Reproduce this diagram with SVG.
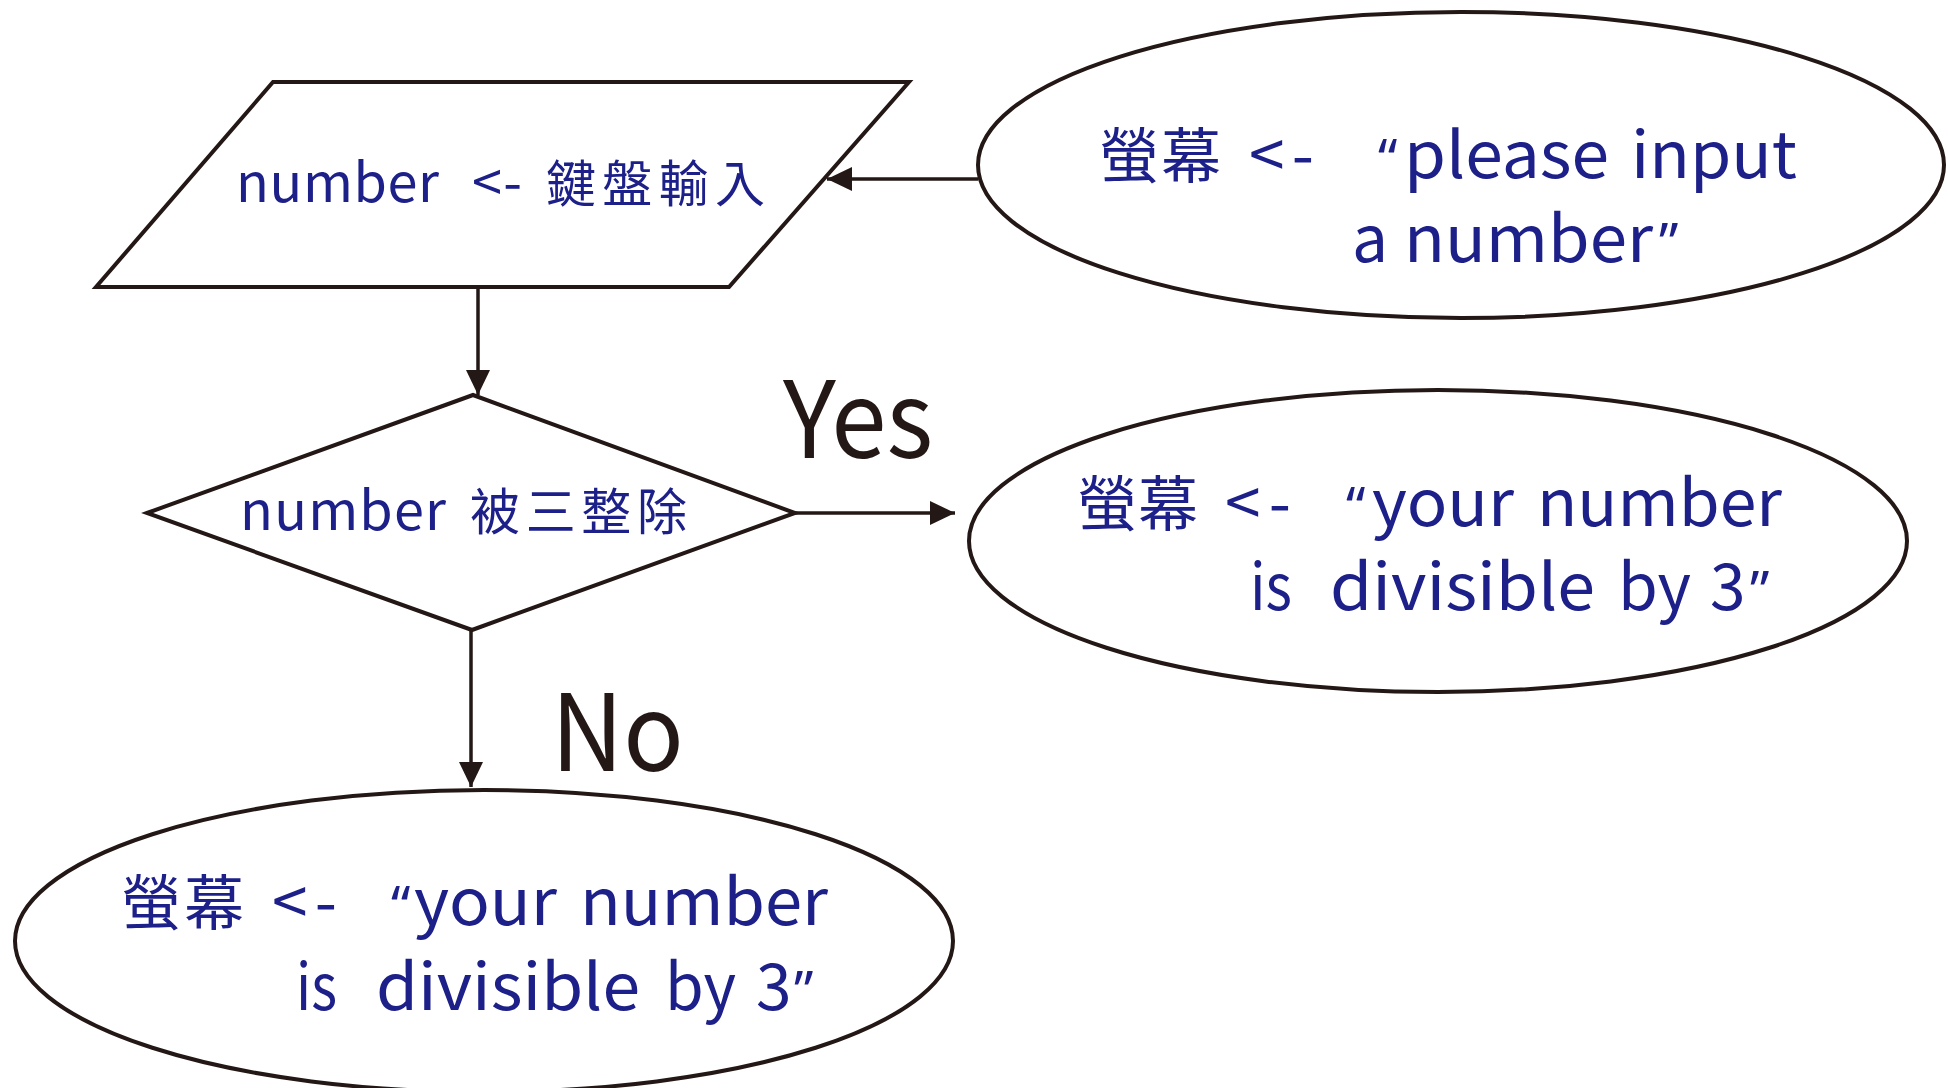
<svg xmlns="http://www.w3.org/2000/svg" width="1948" height="1088" viewBox="0 0 1948 1088">
  <style>
    .shape { fill: #ffffff; stroke: #231815; stroke-width: 4; }
    .conn { fill: none; stroke: #231815; stroke-width: 3.5; }
    .lbl { font-family: "Noto Sans CJK TC", "Noto Sans", sans-serif; fill: #1d2088; }
    .s54 { font-size: 54px; }
    .s64 { font-size: 64px; }
    .cjk50 { font-size: 50px; }
    .cjk60 { font-size: 60px; }
    .q { font-family: "Noto Sans", sans-serif; font-size: 54px; }
    .branch { font-family: "Noto Sans CJK TC", "Noto Sans", sans-serif; font-size: 106px; fill: #231815; }
  </style>
  <defs>
    <marker id="arrow" markerUnits="userSpaceOnUse" markerWidth="26" markerHeight="24" refX="25" refY="12" orient="auto">
      <path d="M0,0 L25,12 L0,24 z" fill="#231815"/>
    </marker>
  </defs>

  <!-- connectors and branch labels -->
  <g id="connectors">
    <line class="conn" x1="978" y1="179" x2="827" y2="179" marker-end="url(#arrow)"/>
    <line class="conn" x1="478" y1="289" x2="478" y2="395" marker-end="url(#arrow)"/>
    <line class="conn" x1="795" y1="513" x2="955" y2="513" marker-end="url(#arrow)"/>
    <line class="conn" x1="471" y1="630" x2="471" y2="787" marker-end="url(#arrow)"/>
    <text class="branch" x="783" y="458" textLength="150" lengthAdjust="spacingAndGlyphs">Yes</text>
    <text class="branch" x="551" y="771" textLength="133" lengthAdjust="spacingAndGlyphs">No</text>
  </g>

  <!-- input: keyboard -->
  <g id="input">
    <polygon class="shape" points="273,82 909,82 729,287 96,287"/>
    <text class="lbl" y="202">
      <tspan class="s54" x="236" textLength="203">number</tspan>
      <tspan class="s54" x="472" textLength="50">&lt;-</tspan>
      <tspan class="cjk50" x="546" textLength="219">鍵盤輸入</tspan>
    </text>
  </g>

  <!-- prompt output -->
  <g id="prompt">
    <ellipse class="shape" cx="1461" cy="165" rx="483" ry="153"/>
    <text class="lbl" y="178">
      <tspan class="cjk60" x="1099" textLength="122">螢幕</tspan>
      <tspan class="s64" x="1249" textLength="65">&lt;-</tspan>
      <tspan class="q" x="1378">“</tspan>
      <tspan class="s64" x="1404" textLength="205" lengthAdjust="spacingAndGlyphs">please</tspan>
      <tspan class="s64" x="1631" textLength="166" lengthAdjust="spacingAndGlyphs">input</tspan>
    </text>
    <text class="lbl" y="262">
      <tspan class="s64" x="1352">a</tspan>
      <tspan class="s64" x="1404" textLength="249" lengthAdjust="spacingAndGlyphs">number</tspan>
      <tspan class="q" x="1659">”</tspan>
    </text>
  </g>

  <!-- decision -->
  <g id="decision">
    <polygon class="shape" points="147,513 473,395 795,513 472,630"/>
    <text class="lbl" y="530">
      <tspan class="s54" x="240" textLength="206">number</tspan>
      <tspan class="cjk50" x="470" textLength="217">被三整除</tspan>
    </text>
  </g>

  <!-- yes branch output -->
  <g id="outputYes">
    <ellipse class="shape" cx="1438" cy="541" rx="469" ry="151"/>
    <text class="lbl" y="526">
      <tspan class="cjk60" x="1077" textLength="121">螢幕</tspan>
      <tspan class="s64" x="1225" textLength="66">&lt;-</tspan>
      <tspan class="q" x="1346">“</tspan>
      <tspan class="s64" x="1372" textLength="142" lengthAdjust="spacingAndGlyphs">your</tspan>
      <tspan class="s64" x="1537" textLength="245" lengthAdjust="spacingAndGlyphs">number</tspan>
    </text>
    <text class="lbl" y="610">
      <tspan class="s64" x="1250" textLength="42" lengthAdjust="spacingAndGlyphs">is</tspan>
      <tspan class="s64" x="1330" textLength="265" lengthAdjust="spacingAndGlyphs">divisible</tspan>
      <tspan class="s64" x="1618" textLength="73" lengthAdjust="spacingAndGlyphs">by</tspan>
      <tspan class="s64" x="1710">3</tspan>
      <tspan class="q" x="1750">”</tspan>
    </text>
  </g>

  <!-- no branch output -->
  <g id="outputNo">
    <ellipse class="shape" cx="484" cy="941" rx="469" ry="151"/>
    <text class="lbl" y="925">
      <tspan class="cjk60" x="121" textLength="123">螢幕</tspan>
      <tspan class="s64" x="272" textLength="65">&lt;-</tspan>
      <tspan class="q" x="391">“</tspan>
      <tspan class="s64" x="414" textLength="143" lengthAdjust="spacingAndGlyphs">your</tspan>
      <tspan class="s64" x="580" textLength="248" lengthAdjust="spacingAndGlyphs">number</tspan>
    </text>
    <text class="lbl" y="1010">
      <tspan class="s64" x="296" textLength="41" lengthAdjust="spacingAndGlyphs">is</tspan>
      <tspan class="s64" x="376" textLength="264" lengthAdjust="spacingAndGlyphs">divisible</tspan>
      <tspan class="s64" x="665" textLength="71" lengthAdjust="spacingAndGlyphs">by</tspan>
      <tspan class="s64" x="756">3</tspan>
      <tspan class="q" x="794">”</tspan>
    </text>
  </g>
</svg>
